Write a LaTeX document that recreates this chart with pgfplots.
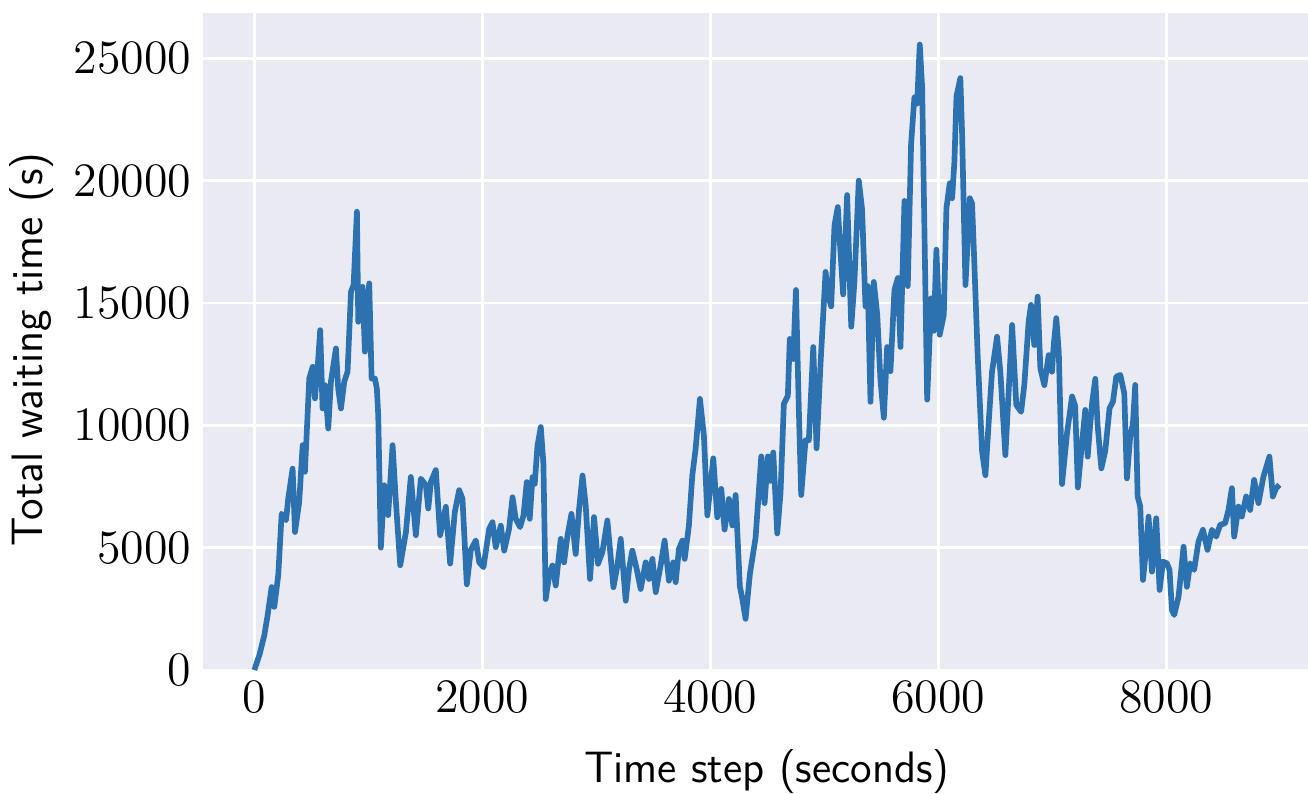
\documentclass[border=0pt]{standalone}
\usepackage{pgfplots}
\pgfplotsset{compat=1.18}
\definecolor{bgc}{RGB}{234,234,242}
\definecolor{linec}{RGB}{44,114,176}
\begin{document}
\begin{tikzpicture}
\path[use as bounding box] (-60.9pt,-36.9pt) rectangle (331.5pt,201pt);
\begin{axis}[
  at={(0,0)}, anchor=south west,
  scale only axis, width=331.5pt, height=197.1pt,
  xmin=-450, xmax=9243, ymin=0, ymax=26850,
  axis background/.style={fill=bgc},
  axis line style={draw=none},
  tick style={draw=none},
  grid=major, major grid style={white, line width=0.8pt},
  xtick={0,2000,4000,6000,8000},
  ytick={0,5000,10000,15000,20000,25000},
  scaled ticks=false,
  xticklabel style={/pgf/number format/1000 sep={}, font=\fontsize{13.3}{16}\selectfont},
  yticklabel style={/pgf/number format/1000 sep={}, font=\fontsize{13.3}{16}\selectfont},
  xlabel={Time step (seconds)}, ylabel={Total waiting time (s)},
  label style={font=\sffamily\fontsize{13.2}{16}\selectfont},
  xlabel style={at={(axis description cs:0.5104,-0.1705)}, anchor=base},
  ylabel style={at={(axis description cs:-0.155,0.488)}, anchor=center},
  clip=true,
]
\addplot[linec, line width=1.7pt, line join=round] coordinates {
(0,0) (44,600) (88,1420) (117,2240) (152,3390) (175,2580) (199,3460) (210,3870)
(240,6390) (278,6120) (298,7010) (336,8230) (357,5640) (394,6870) (424,9190)
(444,8100) (482,11910) (512,12390) (532,11100) (561,12730) (578,13890) (599,10690)
(620,11640) (649,9870) (672,11780) (716,13140) (736,11500) (760,10690) (789,11780)
(818,12190) (848,15460) (871,15730) (900,18730) (912,14230) (950,15660) (970,13010)
(1008,15800) (1029,11910) (1058,11910) (1075,11500) (1087,10420) (1110,5000)
(1140,7550) (1174,6330) (1213,9190) (1242,6870) (1280,4280) (1330,5640) (1373,7890)
(1417,5510) (1461,7820) (1505,7550) (1526,6600) (1549,7690) (1592,8170) (1630,5510)
(1680,6670) (1718,4350) (1759,6460) (1797,7350) (1826,7000) (1864,3500) (1899,4900)
(1943,5300) (1973,4400) (2010,4200) (2060,5770) (2089,6040) (2118,5020) (2162,5900)
(2192,4880) (2235,5770) (2265,7060) (2293,6180) (2331,5840) (2361,6310) (2390,7680)
(2416,6180) (2440,7880) (2460,7610) (2484,9170) (2513,9930) (2536,8430) (2556,2900)
(2586,3860) (2615,4270) (2644,3450) (2688,5360) (2717,4400) (2747,5490) (2782,6380)
(2819,4740) (2849,6590) (2879,7950) (2907,6720) (2945,3720) (2980,6250) (3015,4340)
(3053,4810) (3097,6110) (3150,3380) (3185,4270) (3214,5360) (3258,2830) (3287,4130)
(3316,4880) (3354,4130) (3389,3310) (3433,4400) (3462,3720) (3492,4540) (3521,3180)
(3564,4270) (3599,5290) (3637,3650) (3675,4400) (3696,3590) (3725,4950) (3755,5290)
(3775,4540) (3812,5900) (3842,7950) (3871,9040) (3909,11080) (3944,9550) (3974,6320)
(4026,8650) (4061,6240) (4096,7400) (4125,5740) (4163,6990) (4193,5910) (4222,7150)
(4259,3420) (4280,2920) (4309,2090) (4347,3920) (4397,5410) (4447,8730) (4476,6820)
(4505,8730) (4528,7730) (4552,8890) (4587,5580) (4616,7240) (4645,10880) (4680,11210)
(4697,13530) (4727,12710) (4751,15530) (4776,10720) (4797,7150) (4835,9390) (4864,9390)
(4903,13200) (4932,9060) (4967,12540) (5011,16270) (5040,15190) (5060,14860) (5089,18170)
(5118,18920) (5136,17510) (5165,15350) (5200,19410) (5236,14030) (5264,15860) (5302,20000)
(5331,18840) (5361,14860) (5381,15690) (5405,10960) (5434,15860) (5464,14530) (5492,11880)
(5522,10310) (5551,13200) (5580,12210) (5615,15530) (5645,16020) (5668,13200) (5703,19170)
(5732,15690) (5761,21490) (5790,23400) (5814,23150) (5837,25560) (5858,23810) (5902,11050)
(5937,15190) (5960,13860) (5983,17180) (6012,13700) (6048,14510) (6071,18870) (6100,19890)
(6121,19280) (6141,20780) (6159,23440) (6193,24190) (6208,22000) (6238,15730) (6276,19280)
(6296,19070) (6311,17230) (6345,12870) (6384,8920) (6413,7960) (6442,10140) (6471,12190)
(6515,13620) (6544,12190) (6588,8780) (6647,14100) (6684,10830) (6726,10550) (6754,11640)
(6792,14230) (6813,14920) (6842,13280) (6871,15260) (6895,12320) (6930,11640) (6968,12870)
(6997,12190) (7012,13280) (7035,14380) (7057,12950) (7085,7600) (7129,9680) (7173,11180)
(7200,10800) (7224,7460) (7260,9270) (7289,10630) (7310,8720) (7333,10080) (7350,10960)
(7377,11900) (7397,10000) (7430,8240) (7464,8950) (7502,10700) (7532,10970) (7561,11990)
(7596,12060) (7631,11310) (7654,7830) (7683,9540) (7707,10080) (7727,11650) (7748,7090)
(7771,6680) (7795,3680) (7824,5040) (7844,6270) (7874,4020) (7911,6200) (7941,3270)
(7970,4430) (8005,4360) (8028,4090) (8049,2450) (8069,2250) (8107,2990) (8151,5040)
(8180,3400) (8209,4360) (8244,4090) (8282,5250) (8321,5730) (8361,4910) (8400,5730)
(8437,5450) (8472,5930) (8516,6000) (8545,6540) (8575,7430) (8595,5450) (8633,6680)
(8662,6270) (8700,7090) (8735,6540) (8770,7770) (8808,6820) (8852,7910) (8904,8720)
(8934,7090) (8963,7430) (8992,7570)
};
\end{axis}
\end{tikzpicture}
\end{document}
